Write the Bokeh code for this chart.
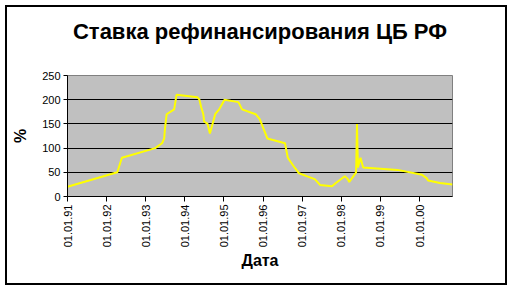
import math
import pandas as pd
from bokeh.plotting import figure
from bokeh.models import (FixedTicker, DatetimeTickFormatter, Range1d, ColumnDataSource, Title)
from bokeh.embed import file_html
from bokeh.resources import INLINE

# Refinancing rate of the Central Bank of Russia (date of change, rate %)
dates = ["1991-01-01", "1992-04-10", "1992-05-23", "1993-03-30", "1993-06-02",
         "1993-06-22", "1993-06-29", "1993-07-15", "1993-09-23", "1993-10-15",
         "1994-04-29", "1994-05-17", "1994-06-02", "1994-06-22", "1994-06-30",
         "1994-08-01", "1994-08-23", "1994-10-11", "1994-11-17", "1995-01-06",
         "1995-05-16", "1995-06-19", "1995-10-24", "1995-12-01", "1996-02-10",
         "1996-07-24", "1996-08-19", "1996-10-21", "1996-12-02", "1997-02-10",
         "1997-04-28", "1997-06-16", "1997-10-06", "1997-11-11", "1998-02-02",
         "1998-02-17", "1998-03-02", "1998-03-16", "1998-05-19", "1998-05-27",
         "1998-06-05", "1998-06-29", "1998-07-24", "1999-06-10", "2000-01-24",
         "2000-03-07", "2000-03-21", "2000-07-10", "2000-11-04"]
rates = [20, 50, 80, 100, 110, 120, 140, 170, 180, 210,
         205, 200, 185, 170, 155, 150, 130, 170, 180, 200,
         195, 180, 170, 160, 120, 110, 80, 60, 48, 42,
         36, 24, 21, 28, 42, 39, 36, 30, 50, 150,
         60, 80, 60, 55, 45, 38, 33, 28, 25]

tick_dates = ["1991-01-01", "1992-01-01", "1993-01-01", "1994-01-01", "1995-01-01",
              "1996-01-01", "1997-01-01", "1998-01-01", "1999-01-01", "2000-01-01"]
y_ticks = [0, 50, 100, 150, 200, 250]

title_text = "Ставка рефинансирования ЦБ РФ"
x_title = "Дата"
y_title = "%"

FONT = "Liberation Sans"

dt = pd.to_datetime(dates)
src = ColumnDataSource(dict(x=dt, y=rates))

p = figure(width=502, height=280, x_axis_type="datetime", output_backend="svg",
           toolbar_location=None, title=None,
           min_border_left=60, min_border_right=57, min_border_top=68, min_border_bottom=91,
           x_range=Range1d(dt[0], dt[-1]), y_range=Range1d(0, 250),
           margin=(5, 0, 0, 5))
p.styles = {"border": "2px solid black", "box-sizing": "border-box"}

# spacer between frame and title, then the title itself
p.add_layout(Title(text=" ", text_font=FONT, text_font_size="27px", standoff=0), "above")
p.add_layout(Title(text=title_text, text_font=FONT, text_font_size="22px",
                   text_font_style="bold", align="center", text_color="black",
                   offset=-8, standoff=0), "above")

p.background_fill_color = "#C0C0C0"
p.border_fill_color = "white"
p.outline_line_color = "#808080"
p.outline_line_width = 1

p.line("x", "y", source=src, line_color="#FFFF00", line_width=2)

tick_ms = [pd.Timestamp(d).value / 1e6 for d in tick_dates]
p.xaxis.ticker = FixedTicker(ticks=tick_ms)
fmt = "%d.%m.%y"
p.xaxis.formatter = DatetimeTickFormatter(milliseconds=fmt, seconds=fmt, minsec=fmt,
                                          minutes=fmt, hourmin=fmt, hours=fmt, days=fmt,
                                          months=fmt, years=fmt)
p.xaxis.major_label_orientation = math.pi / 2
p.yaxis.ticker = FixedTicker(ticks=y_ticks)

for ax in (p.xaxis[0], p.yaxis[0]):
    ax.axis_line_color = "black"
    ax.axis_line_width = 1
    ax.major_tick_line_color = "black"
    ax.major_tick_in = 0
    ax.minor_tick_line_color = None
    ax.major_label_text_font = FONT
    ax.major_label_text_font_size = "11px"
    ax.major_label_text_color = "black"
    ax.axis_label_text_font = FONT
    ax.axis_label_text_font_size = "16px"
    ax.axis_label_text_font_style = "bold"
    ax.axis_label_text_color = "black"
p.xaxis.major_tick_out = 5
p.yaxis.major_tick_out = 4
p.xaxis.major_label_standoff = 3
p.yaxis.major_label_standoff = 3
p.xaxis.axis_label = x_title
p.yaxis.axis_label = y_title
p.xaxis.axis_label_standoff = 2
p.yaxis.axis_label_standoff = 10

p.xgrid.grid_line_color = None
p.ygrid.ticker = FixedTicker(ticks=y_ticks)
p.ygrid.grid_line_color = "black"
p.ygrid.grid_line_width = 1

open("out.html", "w").write(file_html(p, INLINE))
